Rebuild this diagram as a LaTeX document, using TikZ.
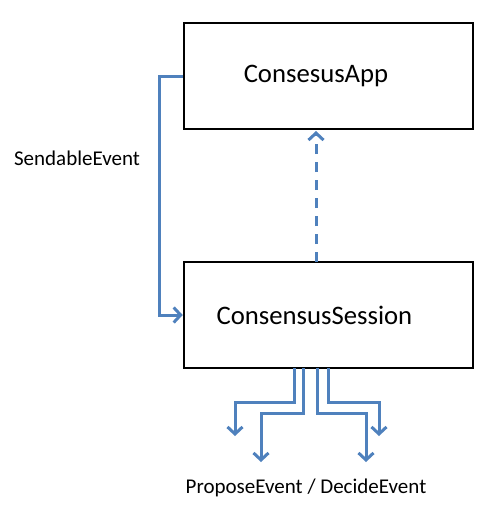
\documentclass[tikz,border=0pt]{standalone}
\usepackage{fontspec}
\setmainfont{Carlito}
\usetikzlibrary{arrows.meta}
\definecolor{ablue}{HTML}{4F81BD}
\tikzset{
  box/.style={draw=black, line width=2.5pt, minimum width=289pt, minimum height=106pt, inner sep=0pt},
  boxtext/.style={font=\fontsize{26.7}{30}\selectfont, inner sep=0pt},
  flow/.style={draw=ablue, line width=3pt, -{Straight Barb[length=7pt,width=15pt,line width=3pt]}},
  lbl/.style={font=\fontsize{21}{24}\selectfont, inner sep=0pt}
}
\begin{document}
\begin{tikzpicture}[x=1pt,y=1pt]
\useasboundingbox (0,0) rectangle (487,-527);
\node[box] (app) at (328.5,-76) {};
\node[boxtext] (apptext) at (316,-76) {ConsesusApp};
\node[box] (sess) at (328.5,-315) {};
\node[boxtext] (sesstext) at (314.5,-315) {ConsensusSession};
\node[lbl] (send) at (77,-158) {SendableEvent};
\node[lbl] (pd) at (306,-488) {ProposeEvent / DecideEvent};
\coordinate (s1) at (294,-368);
\coordinate (s2) at (303,-368);
\coordinate (s3) at (317,-368);
\coordinate (s4) at (328,-368);
\coordinate (e1) at (235,-436);
\coordinate (e2) at (261,-462);
\coordinate (e3) at (366,-462);
\coordinate (e4) at (379,-436);
\draw[flow] (app.west |- 0,-76) -- (159,-76) |- (sess.west |- 0,-315);
\draw[flow, dashed, dash pattern=on 10pt off 8pt] (316,-262) -- (316,-131);
\draw[flow] (s1) |- (235,-402) -- (e1);
\draw[flow] (s2) |- (261,-413) -- (e2);
\draw[flow] (s3) |- (366,-413) -- (e3);
\draw[flow] (s4) |- (379,-402) -- (e4);
\end{tikzpicture}
\end{document}
